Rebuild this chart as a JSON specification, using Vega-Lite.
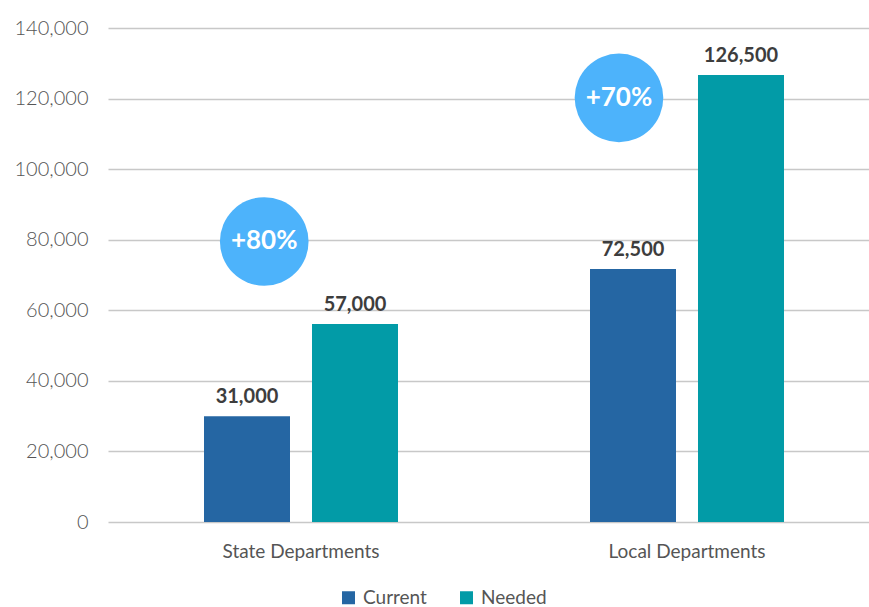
{
  "$schema": "https://vega.github.io/schema/vega-lite/v6.json",
  "width": 758,
  "height": 494,
  "autosize": "none",
  "padding": {"left": 111, "top": 28, "right": 0, "bottom": 85},
  "background": "white",
  "config": {
    "view": {"stroke": null},
    "font": "Lato",
    "axis": {"labelFont": "Lato", "labelColor": "#555555", "labelFontSize": 19, "title": null, "ticks": false, "domain": false},
    "legend": {"labelFont": "Lato", "labelColor": "#555555", "labelFontSize": 19}
  },
  "datasets": {
    "bars": [
      {"dept": "State Departments", "series": "Current", "value": 30000, "label": "31,000"},
      {"dept": "State Departments", "series": "Needed", "value": 56100, "label": "57,000"},
      {"dept": "Local Departments", "series": "Current", "value": 71700, "label": "72,500"},
      {"dept": "Local Departments", "series": "Needed", "value": 126700, "label": "126,500"}
    ],
    "badges": [
      {"pos": 0.397, "value": 79500, "text": "+80%"},
      {"pos": 1.316, "value": 120200, "text": "+70%"}
    ]
  },
  "layer": [
    {
      "data": {"name": "bars"},
      "encoding": {
        "x": {
          "field": "dept", "type": "nominal",
          "sort": ["State Departments", "Local Departments"],
          "scale": {"range": [-3, 769], "paddingInner": 0, "paddingOuter": 0},
          "axis": {"labelAngle": 0, "labelPadding": 20, "grid": false}
        },
        "xOffset": {
          "field": "series", "type": "nominal",
          "sort": ["Current", "Needed"],
          "scale": {"paddingInner": 0.2037, "paddingOuter": 0.889}
        },
        "y": {
          "field": "value", "type": "quantitative",
          "scale": {"domain": [0, 140000], "nice": false},
          "axis": {"values": [0, 20000, 40000, 60000, 80000, 100000, 120000, 140000], "format": ",.0f", "labelPadding": 23, "labelFontSize": 20, "grid": true, "gridColor": "#c8c8c8", "gridWidth": 1.5, "labelFontWeight": 300}
        }
      },
      "layer": [
        {
          "mark": {"type": "bar"},
          "encoding": {
            "color": {
              "field": "series", "type": "nominal",
              "sort": ["Current", "Needed"],
              "scale": {"domain": ["Current", "Needed"], "range": ["#2566a3", "#029ba7"]},
              "legend": {"title": null, "orient": "none", "legendX": 228, "legendY": 560, "direction": "horizontal", "symbolType": "square", "symbolSize": 169, "symbolOpacity": 1, "symbolStrokeWidth": 0, "columnPadding": 30, "labelOffset": 5}
            }
          }
        },
        {
          "mark": {"type": "text", "dy": -13, "baseline": "alphabetic", "fontWeight": "bold", "fontSize": 20, "color": "#3d3d3d"},
          "encoding": {"text": {"field": "label"}}
        }
      ]
    },
    {
      "data": {"name": "badges"},
      "encoding": {
        "x": {"field": "pos", "type": "quantitative", "scale": {"domain": [0, 2], "range": [0, 772], "nice": false, "zero": false}, "axis": null},
        "y": {
          "field": "value", "type": "quantitative",
          "scale": {"domain": [0, 140000], "nice": false},
          "axis": {"values": [0, 20000, 40000, 60000, 80000, 100000, 120000, 140000], "format": ",.0f", "labelPadding": 23, "labelFontSize": 20, "grid": true, "gridColor": "#c8c8c8", "gridWidth": 1.5, "labelFontWeight": 300}
        }
      },
      "layer": [
        {"mark": {"type": "point", "shape": "circle", "filled": true, "size": 7854, "color": "#4db3fb", "opacity": 1}},
        {"mark": {"type": "text", "color": "white", "fontWeight": "bold", "fontSize": 26, "baseline": "middle"}, "encoding": {"text": {"field": "text"}}}
      ]
    }
  ],
  "resolve": {"scale": {"x": "independent"}}
}
